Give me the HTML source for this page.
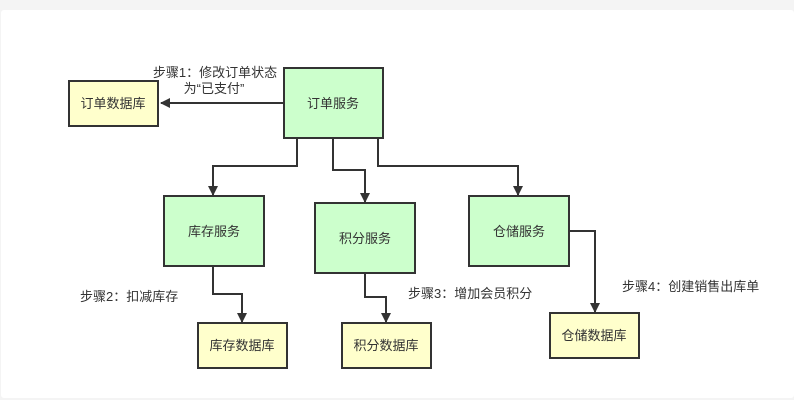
<!DOCTYPE html>
<html><head><meta charset="utf-8"><style>
body{margin:0;background:#f4f4f4;}
svg{display:block}
text{font-family:"Liberation Sans","Noto Sans CJK SC",sans-serif;font-size:13px;fill:#333}
</style></head><body>
<svg width="794" height="400" viewBox="0 0 794 400">
<rect x="0" y="0" width="794" height="400" fill="#f4f4f4"/>
<rect x="1" y="10" width="793" height="388" rx="3" fill="#fff"/>
<defs><marker id="a" markerWidth="10" markerHeight="10" refX="9" refY="5" orient="auto" markerUnits="userSpaceOnUse"><path d="M0,0 L10,5 L0,10 Z" fill="#333"/></marker></defs>
<g stroke="#333" stroke-width="2" fill="none">
<path d="M284,103 H161" marker-end="url(#a)"/>
<path d="M297,138 V166 H213 V195" marker-end="url(#a)"/>
<path d="M333,138 V170 H365 V202" marker-end="url(#a)"/>
<path d="M378,138 V166 H518 V195" marker-end="url(#a)"/>
<path d="M213,266 V294 H242 V322" marker-end="url(#a)"/>
<path d="M365,273 V297 H386 V322" marker-end="url(#a)"/>
<path d="M569,231 H595 V312" marker-end="url(#a)"/>
</g>
<g stroke="#333" stroke-width="2">
<rect x="69" y="81" width="89" height="45" fill="#ffffcc"/>
<rect x="284" y="68" width="99" height="70" fill="#ccffcc"/>
<rect x="164" y="196" width="100" height="70" fill="#ccffcc"/>
<rect x="315" y="203" width="100" height="70" fill="#ccffcc"/>
<rect x="469" y="196" width="100" height="70" fill="#ccffcc"/>
<rect x="198" y="323" width="89" height="45" fill="#ffffcc"/>
<rect x="342" y="323" width="89" height="45" fill="#ffffcc"/>
<rect x="550" y="313" width="89" height="45" fill="#ffffcc"/>
</g>
<g text-anchor="middle">
<text x="113" y="108">订单数据库</text>
<text x="333" y="108">订单服务</text>
<text x="214" y="236">库存服务</text>
<text x="365" y="243">积分服务</text>
<text x="519" y="236">仓储服务</text>
<text x="242" y="350">库存数据库</text>
<text x="386" y="350">积分数据库</text>
<text x="594" y="340">仓储数据库</text>
<text x="215" y="77">步骤1：修改订单状态</text>
<text x="214" y="93">为“已支付”</text>
</g>
<text x="80" y="301">步骤2：扣减库存</text>
<text x="408" y="298">步骤3：增加会员积分</text>
<text x="622" y="291">步骤4：创建销售出库单</text>
</svg>
</body></html>
